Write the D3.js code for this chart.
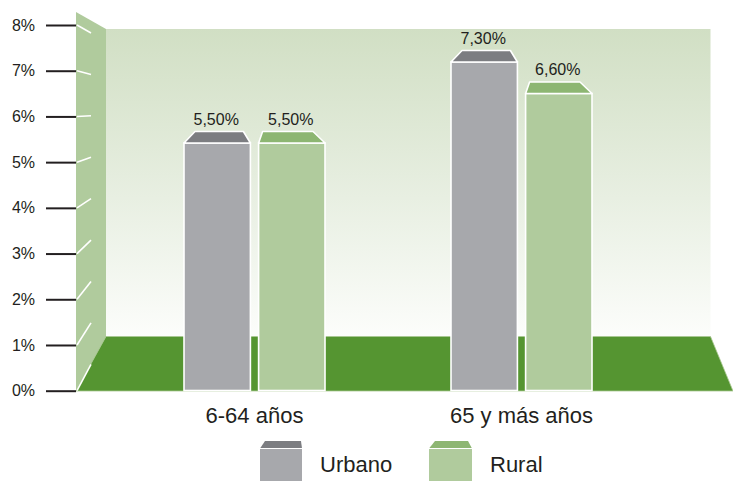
<!DOCTYPE html>
<html>
<head>
<meta charset="utf-8">
<script src="https://cdn.jsdelivr.net/npm/d3@7"></script>
<style>
  html, body { margin: 0; padding: 0; background: #ffffff; }
  svg { display: block; }
  text { font-family: "Liberation Sans", Arial, sans-serif; fill: #231f20; }
</style>
</head>
<body>
<svg id="chart" width="733" height="481"></svg>
<script>
// ---- data ----
const categories = ["6-64 años", "65 y más años"];
const seriesNames = ["Urbano", "Rural"];
const urbanoValues = [5.5, 7.3];
const ruralValues = [5.5, 6.6];
const valueLabels = [["5,50%", "7,30%"], ["5,50%", "6,60%"]];
const tickValues = [0, 1, 2, 3, 4, 5, 6, 7, 8];
const tickLabels = ["0%", "1%", "2%", "3%", "4%", "5%", "6%", "7%", "8%"];

const seriesValues = [urbanoValues, ruralValues];
const faceColors = ["#a7a8ac", "#b0cb9d"];
const capColors = ["#7c7d81", "#8db672"];
const capInsets = [[11, 7], [4, 12]];

const svg = d3.select("#chart");

// scales
const y = d3.scaleLinear().domain([0, 8]).range([390.7, 25]);      // axis (front plane)
const yBar = d3.scaleLinear().domain([0, 8]).range([390.5, 30.5]); // bars (depth plane)
const x0 = d3.scaleBand().domain(categories).range([121, 655]);
const x1 = d3.scaleBand().domain(seriesNames).range([-70.5, 70.5]).paddingInner(0.11);

// ---- 3D frame ----
const defs = svg.append("defs");
const grad = defs.append("linearGradient").attr("id", "wallGrad")
  .attr("x1", 0).attr("y1", 0).attr("x2", 0).attr("y2", 1);
grad.append("stop").attr("offset", "0%").attr("stop-color", "#d1dfc4");
grad.append("stop").attr("offset", "55%").attr("stop-color", "#e8efe2");
grad.append("stop").attr("offset", "100%").attr("stop-color", "#fcfdfb");

const backTop = 29, backBottom = 336.5, frontX = 76, backX = 106, backRight = 710.5;
svg.append("rect").attr("x", backX).attr("y", backTop)
  .attr("width", backRight - backX).attr("height", backBottom - backTop)
  .attr("fill", "url(#wallGrad)");

// left wall
svg.append("polygon")
  .attr("points", [[frontX, 12], [backX, backTop], [backX, backBottom], [frontX, 391]].map(p => p.join(",")).join(" "))
  .attr("fill", "#b0cb9d");

// floor
svg.append("polygon")
  .attr("points", [[backX, backBottom], [backRight, backBottom], [733, 391], [frontX, 391]].map(p => p.join(",")).join(" "))
  .attr("fill", "#559531").attr("stroke", "#a9c892").attr("stroke-width", 0.8);

// perspective ticks on the wall
const vp = [226, 110];
svg.append("g").selectAll("line").data(tickValues).join("line")
  .attr("x1", frontX + 1).attr("y1", d => y(d))
  .attr("x2", frontX + 15)
  .attr("y2", d => y(d) + (vp[1] - y(d)) / (vp[0] - frontX - 1) * 14)
  .attr("stroke", "#ffffff").attr("stroke-width", 1.6);

// ---- axis ----
const axis = d3.axisLeft(y).tickValues(tickValues)
  .tickFormat((d, i) => tickLabels[i]).tickSize(30).tickPadding(11);
const gAxis = svg.append("g").attr("transform", `translate(${frontX},0)`).call(axis);
gAxis.select(".domain").remove();
gAxis.selectAll(".tick line").attr("stroke", "#231f20").attr("stroke-width", 2);
gAxis.selectAll(".tick text").attr("font-size", 16).attr("fill", "#231f20")
  .attr("font-family", "Liberation Sans, Arial, sans-serif");

// ---- bars ----
const capH = 11.5;
const bw = x1.bandwidth();
categories.forEach((cat, ci) => {
  const cx = x0(cat) + x0.bandwidth() / 2;
  seriesNames.forEach((s, si) => {
    const v = seriesValues[si][ci];
    const bx = cx + x1(s);
    const top = yBar(v);
    const g = svg.append("g");
    g.append("rect").attr("x", bx).attr("y", top)
      .attr("width", bw).attr("height", yBar(0) - top)
      .attr("fill", faceColors[si]).attr("stroke", "#ffffff").attr("stroke-width", 1.6);
    const [il, ir] = capInsets[si];
    g.append("polygon")
      .attr("points", [[bx, top], [bx + il, top - capH], [bx + bw - ir, top - capH], [bx + bw, top]].map(p => p.join(",")).join(" "))
      .attr("fill", capColors[si]).attr("stroke", "#ffffff").attr("stroke-width", 1.6)
      .attr("stroke-linejoin", "round");
    g.append("text").attr("x", bx + bw / 2 - 1).attr("y", top - capH - 7)
      .attr("text-anchor", "middle").attr("font-size", 16)
      .text(valueLabels[si][ci]);
  });
});

// category labels
svg.append("g").selectAll("text").data(categories).join("text")
  .attr("x", d => x0(d) + x0.bandwidth() / 2).attr("y", 423)
  .attr("text-anchor", "middle").attr("font-size", 22)
  .text(d => d);

// ---- legend ----
const legendX = [260, 429];
const legendW = [42, 43];
const legendInsets = [[5, 1], [6, 4]];
seriesNames.forEach((s, si) => {
  const lx = legendX[si], w = legendW[si];
  const g = svg.append("g");
  g.append("rect").attr("x", lx).attr("y", 448.5).attr("width", w).attr("height", 40)
    .attr("fill", faceColors[si]);
  const [il, ir] = legendInsets[si];
  g.append("polygon")
    .attr("points", [[lx, 448.5], [lx + il, 441], [lx + w - ir, 441], [lx + w, 448.5]].map(p => p.join(",")).join(" "))
    .attr("fill", capColors[si]);
  g.append("line").attr("x1", lx).attr("x2", lx + w).attr("y1", 448.5).attr("y2", 448.5)
    .attr("stroke", "#ffffff").attr("stroke-width", 1);
  g.append("text").attr("x", lx + w + 18).attr("y", 472).attr("font-size", 22).text(s);
});
</script>
</body>
</html>
